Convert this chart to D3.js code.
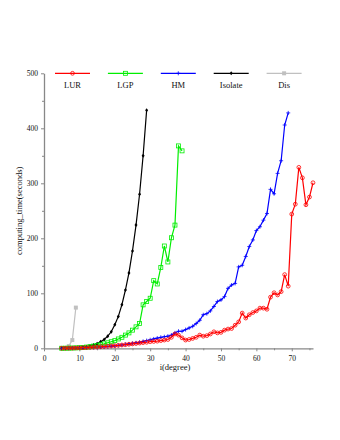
<!DOCTYPE html>
<html lang="en">
<head>
<meta charset="UTF-8">
<title>computing time</title>
<script src="https://d3js.org/d3.v7.min.js"></script>
<style>
  body { margin: 0; background: #fff; }
  svg text { font-family: "Liberation Serif", "DejaVu Serif", serif; fill: #111; font-weight: normal; }
  .axis path, .axis line { stroke: #888; }
</style>
</head>
<body>
<div id="chart"></div>
<script>
  // degrees i, each series starts at 5
  const lurTime = [0.1,0.2,0.3,0.4,0.6,0.8,1,1.3,1.6,2,2.4,2.8,3.2,3.7,4.2,4.8,5.4,6,6.6,7.3,8,8.7,9.5,10.3,11,12,12.5,13,14,15,16,20,26,24,19,15,16,18,20,24,22,23,26,30,28,29,33,35,36,42,48,64,55,61,65,68,73,73,71,93,101,97,103,134,113,244,262,329,310,261,275,301];
  const lgpTime = [0.1,0.2,0.3,0.5,0.8,1.1,1.6,2.2,3,4,5,6.5,8,10,12,14,17,20,24,28,33,39,45,79,85,91,123,117,147,186,157,201,224,368,359];
  const hmTime = [0.1,0.2,0.3,0.4,0.5,0.7,0.9,1.1,1.4,1.7,2,2.4,2.8,3.3,3.9,4.5,5.2,6,7,8,9,10,11,12.5,14,15.5,17,18.5,20,21,22,24,28,31,31,34,37,40,45,51,61,63,68,76,85,88,94,109,115,118,148,151,167,185,197,214,221,233,245,289,281,318,341,406,428];
  const isolateTime = [0.05,0.1,0.2,0.4,0.7,1.1,1.7,2.6,4,6,8.5,12,16,22,30,43,58,79,106,137,177,224,280,350,433];
  const disTime = [0.1,0.5,4,15,74];
  const firstDegree = 5;

  const seriesNames = ["LUR", "LGP", "HM", "Isolate", "Dis"];
  const seriesValues = [lurTime, lgpTime, hmTime, isolateTime, disTime];
  const seriesColors = ["#ff0000", "#00ee00", "#0000ff", "#000000", "#c0c0c0"];
  const seriesMarks = ["circle", "square", "cross", "diamond", "filled"];

  const xMajor = [0, 10, 20, 30, 40, 50, 60, 70];
  const xMinor = [5, 15, 25, 35, 45, 55, 65, 75];
  const yMajor = [0, 100, 200, 300, 400, 500];
  const yMinor = [50, 150, 250, 350, 450];

  const width = 340, height = 440;

  const svg = d3.select("#chart").append("svg")
    .attr("width", width)
    .attr("height", height);

  const x = d3.scaleLinear().domain([0, 76]).range([44, 313]);
  const y = d3.scaleLinear().domain([0, 500]).range([348.3, 73.3]);

  // axes
  const gx = svg.append("g").attr("class", "axis")
    .attr("transform", `translate(0,${y(0)})`)
    .call(d3.axisBottom(x).tickValues(xMajor).tickSize(3).tickSizeOuter(0));
  svg.append("g").attr("class", "axis")
    .attr("transform", `translate(0,${y(0)})`)
    .call(d3.axisBottom(x).tickValues(xMinor).tickSize(2).tickFormat(""))
    .select(".domain").remove();
  const gy = svg.append("g").attr("class", "axis")
    .attr("transform", `translate(${x(0)},0)`)
    .call(d3.axisLeft(y).tickValues(yMajor).tickSize(3).tickSizeOuter(0));
  svg.append("g").attr("class", "axis")
    .attr("transform", `translate(${x(0)},0)`)
    .call(d3.axisLeft(y).tickValues(yMinor).tickSize(2).tickFormat(""))
    .select(".domain").remove();

  svg.selectAll(".axis .domain").attr("stroke-width", 1.3);
  svg.selectAll(".axis text").style("font-size", "7.5px").attr("fill", "#111");
  gx.selectAll("text").attr("dy", "0.9em");

  svg.append("text")
    .attr("x", 175).attr("y", 370)
    .attr("text-anchor", "middle")
    .style("font-size", "8.5px")
    .text("i(degree)");
  svg.append("text")
    .attr("transform", `translate(22,${y(250)}) rotate(-90)`)
    .attr("text-anchor", "middle")
    .style("font-size", "8.5px")
    .text("computing_time(seconds)");

  function drawMark(g, kind, color) {
    if (kind === "circle") {
      g.append("circle").attr("r", 1.9).attr("fill", "none").attr("stroke", color).attr("stroke-width", 0.8);
    } else if (kind === "square") {
      g.append("rect").attr("x", -2).attr("y", -2).attr("width", 4).attr("height", 4)
        .attr("fill", "none").attr("stroke", color).attr("stroke-width", 0.8);
    } else if (kind === "cross") {
      g.append("path").attr("d", "M-2,0H2M0,-2V2").attr("stroke", color).attr("stroke-width", 0.8);
    } else if (kind === "diamond") {
      g.append("path").attr("d", "M0,-2L1.5,0L0,2L-1.5,0Z").attr("fill", color);
    } else {
      g.append("rect").attr("x", -2).attr("y", -2).attr("width", 4).attr("height", 4).attr("fill", color);
    }
  }

  const line = d3.line()
    .x((d, i) => x(firstDegree + i))
    .y(d => y(d));

  // draw from last to first so red stays on top
  for (let s = seriesNames.length - 1; s >= 0; s--) {
    const vals = seriesValues[s];
    svg.append("path")
      .datum(vals)
      .attr("fill", "none")
      .attr("stroke", seriesColors[s])
      .attr("stroke-width", 1.2)
      .attr("d", line);
    svg.append("g").selectAll("g")
      .data(vals)
      .join("g")
      .attr("transform", (d, i) => `translate(${x(firstDegree + i)},${y(d)})`)
      .each(function () { drawMark(d3.select(this), seriesMarks[s], seriesColors[s]); });
  }

  // legend
  const legend = svg.append("g").attr("transform", "translate(55,73.3)");
  seriesNames.forEach((name, s) => {
    const item = legend.append("g").attr("transform", `translate(${s * 52.9},0)`);
    item.append("line").attr("x1", 0).attr("x2", 35)
      .attr("stroke", seriesColors[s]).attr("stroke-width", 1.2);
    drawMark(item.append("g").attr("transform", "translate(17.5,0)"), seriesMarks[s], seriesColors[s]);
    item.append("text").attr("x", 17.5).attr("y", 15)
      .attr("text-anchor", "middle")
      .style("font-size", "8.5px")
      .text(name);
  });
</script>
</body>
</html>
